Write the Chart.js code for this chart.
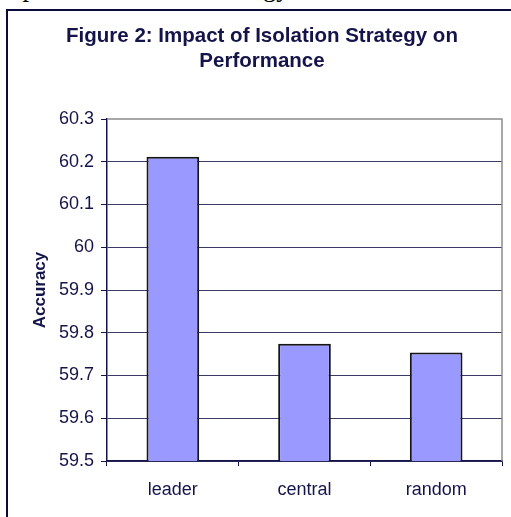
<!DOCTYPE html>
<html>
<head>
<meta charset="utf-8">
<script src="https://cdn.jsdelivr.net/npm/chart.js@4"></script>
<style>
  html, body { margin: 0; padding: 0; background: #fff; overflow: hidden; }
  #wrap { position: relative; width: 511px; height: 517px; }
  #chart { position: absolute; left: 0; top: 0; }
  #frame {
    position: absolute; left: 6px; top: 9px; width: 600px; height: 600px;
    border-left: 2px solid #0b0b3b; border-top: 2px solid #0b0b3b;
    pointer-events: none;
  }
  #doctext {
    position: absolute; left: -7px; top: -26px; white-space: nowrap;
    font-family: "Liberation Serif", "Times New Roman", serif; font-size: 26.5px; line-height: 1;
    color: #000;
  }
</style>
</head>
<body>
<div id="wrap">
  <div id="doctext">Impact of Isolation Strategy</div>
  <canvas id="chart" width="511" height="517"></canvas>
  <div id="frame"></div>
</div>
<script>
const categories = ["leader", "central", "random"];
const accuracy = [60.212, 59.774, 59.754];
const yTicks = [59.5, 59.6, 59.7, 59.8, 59.9, 60, 60.1, 60.2, 60.3];

const navy = "#14144a";
const font = "'Liberation Sans', Arial, sans-serif";

// grey frame on top and right side of the plot area
const plotFrame = {
  id: "plotFrame",
  afterDraw(chart) {
    const a = chart.chartArea;
    const c = chart.ctx;
    c.save();
    c.strokeStyle = "#8c8c8c";
    c.lineWidth = 1.5;
    c.beginPath();
    c.moveTo(a.left, a.top);
    c.lineTo(a.right, a.top);
    c.lineTo(a.right, a.bottom);
    c.stroke();
    c.restore();
  }
};

const ctx = document.getElementById("chart").getContext("2d");
new Chart(ctx, {
  type: "bar",
  data: {
    labels: categories,
    datasets: [
    {
      data: accuracy,
      backgroundColor: "#9999ff",
      borderColor: "#151515",
      borderWidth: 2,
      borderSkipped: "bottom",
      barPercentage: 0.4,
      categoryPercentage: 1 }] },

  options: {
    responsive: false,
    animation: false,
    layout: {
      padding: { left: 22, right: 9, top: 0, bottom: 0 } },

    plugins: {
      legend: { display: false },
      tooltip: { enabled: false },
      title: {
        display: true,
        text: ["Figure 2: Impact of Isolation Strategy on", "Performance"],
        color: navy,
        font: { family: font, size: 20.5, weight: "bold", lineHeight: 1.22 },
        padding: { top: 23.5, bottom: 45.5 } } },

    scales: {
      x: {
        afterFit: s => { s.height = 56; },
        grid: {
          offset: true,
          drawOnChartArea: false,
          drawTicks: true,
          tickLength: 5,
          color: navy },

        border: { color: navy, width: 1.5 },
        ticks: {
          color: navy,
          padding: 13,
          font: { family: font, size: 18 } } },

      y: {
        min: 59.5,
        max: 60.3,
        afterFit: s => { s.width = 85; },
        afterBuildTicks: s => {
          s.ticks = yTicks.map(v => ({ value: v }));
        },
        grid: {
          color: ctx => ctx.tick && ctx.tick.value === 60.3 ? "rgba(0,0,0,0)" : "#3a3a66",
          tickColor: navy,
          drawTicks: true,
          tickLength: 6 },

        border: { color: navy, width: 1.5 },
        ticks: {
          color: navy,
          padding: 7,
          callback: v => String(v),
          font: { family: font, size: 18 } },

        title: {
          display: true,
          text: "Accuracy",
          color: navy,
          font: { family: font, size: 17, weight: "bold" },
          padding: { top: 8, bottom: 0 } } } } },

  plugins: [plotFrame] });
</script>
</body>
</html>
